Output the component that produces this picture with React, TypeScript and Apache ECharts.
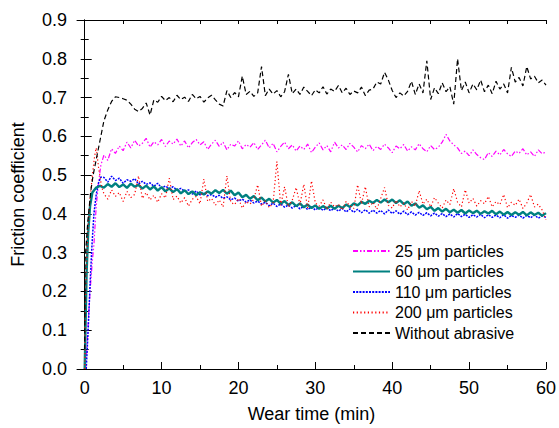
import React, { useEffect, useRef } from "react";
import * as echarts from "echarts";

// Shared sampling times (min) for the steady part of every curve
const plateauTime = [
  2.5, 3, 3.5, 4, 4.5, 5, 5.5, 6, 6.5, 7,
  7.5, 8, 8.5, 9, 9.5, 10, 10.5, 11, 11.5, 12,
  12.5, 13, 13.5, 14, 14.5, 15, 15.5, 16, 16.5, 17,
  17.5, 18, 18.5, 19, 19.5, 20, 20.5, 21, 21.5, 22,
  22.5, 23, 23.5, 24, 24.5, 25, 25.5, 26, 26.5, 27,
  27.5, 28, 28.5, 29, 29.5, 30, 30.5, 31, 31.5, 32,
  32.5, 33, 33.5, 34, 34.5, 35, 35.5, 36, 36.5, 37,
  37.5, 38, 38.5, 39, 39.5, 40, 40.5, 41, 41.5, 42,
  42.5, 43, 43.5, 44, 44.5, 45, 45.5, 46, 46.5, 47,
  47.5, 48, 48.5, 49, 49.5, 50, 50.5, 51, 51.5, 52,
  52.5, 53, 53.5, 54, 54.5, 55, 55.5, 56, 56.5, 57,
  57.5, 58, 58.5, 59, 59.5, 60,
];

// Running-in (rise) parts
const riseTime25 = [0.15, 0.4, 0.7, 1.0, 1.2, 1.5, 1.8, 2.1];
const riseVal25 = [0.0, 0.1, 0.2, 0.28, 0.32, 0.42, 0.48, 0.525];
const riseTime60 = [0, 0.1, 0.25, 0.45, 0.7, 1.0, 1.5, 2.0];
const riseVal60 = [0.0, 0.1, 0.25, 0.35, 0.42, 0.455, 0.468, 0.472];
const riseTime110 = [0.2, 0.45, 0.7, 0.95, 1.2, 1.5, 1.8, 2.1];
const riseVal110 = [0.0, 0.1, 0.22, 0.32, 0.4, 0.45, 0.48, 0.495];
const riseTime200 = [0, 0.05, 0.2, 0.4, 0.7, 1.0, 1.3, 1.5, 1.8, 2.2];
const riseVal200 = [0.0, 0.12, 0.25, 0.35, 0.44, 0.5, 0.55, 0.57, 0.52, 0.47];
const riseTimeNone = [0, 0.05, 0.4, 0.8, 1.1, 1.5, 1.9, 2.3];
const riseValNone = [0.05, 0.28, 0.38, 0.46, 0.5, 0.54, 0.58, 0.62];

// Steady parts (values at plateauTime)
const val25 = [
  0.552, 0.538, 0.568, 0.556, 0.575, 0.563, 0.585, 0.570, 0.590, 0.575,
  0.582, 0.595, 0.572, 0.586, 0.578, 0.592, 0.574, 0.588, 0.580, 0.593,
  0.575, 0.588, 0.570, 0.584, 0.592, 0.578, 0.586, 0.566, 0.580, 0.590,
  0.574, 0.585, 0.565, 0.580, 0.575, 0.588, 0.568, 0.579, 0.572, 0.584,
  0.566, 0.578, 0.590, 0.570, 0.582, 0.560, 0.574, 0.585, 0.568, 0.578,
  0.562, 0.575, 0.566, 0.580, 0.558, 0.572, 0.583, 0.565, 0.576, 0.560,
  0.585, 0.570, 0.578, 0.566, 0.582, 0.572, 0.560, 0.576, 0.568, 0.580,
  0.563, 0.574, 0.566, 0.580, 0.570, 0.558, 0.575, 0.568, 0.579, 0.562,
  0.573, 0.565, 0.581, 0.568, 0.560, 0.576, 0.566, 0.572, 0.585, 0.605,
  0.588, 0.578, 0.570, 0.556, 0.562, 0.550, 0.565, 0.553, 0.545, 0.540,
  0.558, 0.548, 0.562, 0.552, 0.566, 0.555, 0.548, 0.562, 0.556, 0.568,
  0.552, 0.560, 0.548, 0.565, 0.555, 0.560,
];
const val60 = [
  0.468, 0.477, 0.470, 0.479, 0.469, 0.476, 0.467, 0.478, 0.470, 0.475,
  0.465, 0.473, 0.463, 0.471, 0.460, 0.469, 0.458, 0.466, 0.456, 0.464,
  0.453, 0.461, 0.451, 0.458, 0.448, 0.456, 0.450, 0.458, 0.452, 0.461,
  0.454, 0.462, 0.452, 0.460, 0.448, 0.455, 0.443, 0.449, 0.439, 0.446,
  0.435, 0.442, 0.432, 0.439, 0.429, 0.436, 0.426, 0.433, 0.423, 0.430,
  0.420, 0.427, 0.417, 0.424, 0.415, 0.422, 0.413, 0.420, 0.414, 0.421,
  0.413, 0.421, 0.415, 0.424, 0.418, 0.427, 0.422, 0.431, 0.426, 0.434,
  0.428, 0.436, 0.429, 0.437, 0.430, 0.437, 0.428, 0.435, 0.425, 0.432,
  0.421, 0.427, 0.416, 0.422, 0.412, 0.418, 0.408, 0.415, 0.406, 0.413,
  0.404, 0.411, 0.403, 0.410, 0.401, 0.409, 0.402, 0.408, 0.400, 0.407,
  0.401, 0.408, 0.399, 0.406, 0.398, 0.405, 0.397, 0.404, 0.398, 0.405,
  0.396, 0.404, 0.397, 0.403, 0.395, 0.402,
];
const val110 = [
  0.494, 0.482, 0.497, 0.486, 0.492, 0.479, 0.488, 0.484, 0.491, 0.477,
  0.484, 0.476, 0.480, 0.471, 0.479, 0.467, 0.472, 0.465, 0.470, 0.461,
  0.466, 0.458, 0.462, 0.451, 0.459, 0.449, 0.455, 0.447, 0.450, 0.443,
  0.448, 0.440, 0.444, 0.436, 0.441, 0.433, 0.438, 0.430, 0.436, 0.428,
  0.433, 0.425, 0.430, 0.421, 0.428, 0.419, 0.426, 0.417, 0.423, 0.415,
  0.422, 0.413, 0.420, 0.411, 0.418, 0.410, 0.417, 0.409, 0.416, 0.408,
  0.415, 0.407, 0.414, 0.405, 0.413, 0.404, 0.412, 0.403, 0.411, 0.402,
  0.410, 0.402, 0.409, 0.400, 0.410, 0.401, 0.408, 0.399, 0.407, 0.398,
  0.405, 0.397, 0.404, 0.396, 0.403, 0.395, 0.402, 0.394, 0.401, 0.393,
  0.400, 0.392, 0.401, 0.393, 0.399, 0.391, 0.398, 0.392, 0.399, 0.390,
  0.398, 0.391, 0.397, 0.390, 0.398, 0.389, 0.396, 0.391, 0.397, 0.389,
  0.396, 0.390, 0.397, 0.389, 0.395, 0.391,
];
const val200 = [
  0.452, 0.438, 0.462, 0.445, 0.455, 0.432, 0.458, 0.442, 0.450, 0.498,
  0.440, 0.455, 0.436, 0.448, 0.430, 0.452, 0.441, 0.492, 0.437, 0.446,
  0.428, 0.442, 0.420, 0.438, 0.445, 0.426, 0.490, 0.432, 0.440, 0.422,
  0.436, 0.418, 0.498, 0.430, 0.424, 0.440, 0.415, 0.432, 0.425, 0.438,
  0.475, 0.420, 0.434, 0.416, 0.428, 0.535, 0.422, 0.470, 0.418, 0.435,
  0.468, 0.424, 0.476, 0.415, 0.485, 0.428, 0.420, 0.436, 0.412, 0.430,
  0.418, 0.425, 0.410, 0.432, 0.420, 0.414, 0.475, 0.426, 0.470, 0.418,
  0.430, 0.412, 0.440, 0.468, 0.422, 0.415, 0.435, 0.418, 0.428, 0.410,
  0.432, 0.420, 0.460, 0.425, 0.438, 0.418, 0.442, 0.428, 0.415, 0.436,
  0.424, 0.465, 0.430, 0.418, 0.462, 0.428, 0.440, 0.420, 0.434, 0.426,
  0.445, 0.418, 0.432, 0.424, 0.450, 0.416, 0.430, 0.422, 0.438, 0.414,
  0.428, 0.450, 0.418, 0.425, 0.410, 0.385,
];
const valNone = [
  0.640, 0.668, 0.690, 0.702, 0.700, 0.697, 0.693, 0.683, 0.670, 0.664,
  0.672, 0.686, 0.655, 0.694, 0.688, 0.703, 0.692, 0.700, 0.689, 0.706,
  0.695, 0.701, 0.690, 0.708, 0.697, 0.703, 0.688, 0.699, 0.706, 0.694,
  0.683, 0.678, 0.718, 0.700, 0.713, 0.702, 0.755, 0.708, 0.716, 0.703,
  0.712, 0.780, 0.705, 0.722, 0.709, 0.718, 0.702, 0.715, 0.760, 0.710,
  0.722, 0.708, 0.727, 0.716, 0.705, 0.720, 0.712, 0.728, 0.709, 0.722,
  0.716, 0.731, 0.712, 0.724, 0.708, 0.717, 0.712, 0.727, 0.705, 0.719,
  0.722, 0.740, 0.735, 0.765, 0.745, 0.718, 0.700, 0.712, 0.704, 0.716,
  0.742, 0.708, 0.735, 0.712, 0.795, 0.695, 0.725, 0.710, 0.738, 0.715,
  0.728, 0.683, 0.800, 0.718, 0.740, 0.712, 0.735, 0.720, 0.745, 0.715,
  0.732, 0.710, 0.742, 0.722, 0.735, 0.712, 0.778, 0.740, 0.752, 0.730,
  0.780, 0.748, 0.755, 0.738, 0.745, 0.732,
];

const seriesNames = [
  "25 \u03bcm particles",
  "60 \u03bcm particles",
  "110 \u03bcm particles",
  "200 \u03bcm particles",
  "Without abrasive",
];

const xMajor = [0, 10, 20, 30, 40, 50, 60];
const xMinor = [5, 15, 25, 35, 45, 55];
const xAll = [0, 5, 10, 15, 20, 25, 30, 35, 40, 45, 50, 55, 60];

function build(rt: number[], rv: number[], pv: number[]) {
  const out: number[][] = rt.map((t, i) => [t, rv[i]]);
  plateauTime.forEach((t, i) => out.push([t, pv[i]]));
  return out;
}

const FONT = "Liberation Sans, Arial, sans-serif";

export default function App() {
  const ref = useRef<HTMLDivElement>(null);
  useEffect(() => {
    if (!ref.current) return;
    const chart = echarts.init(ref.current, undefined, { renderer: "svg" });
    const axisLine = { show: true, lineStyle: { color: "#000", width: 1 } };
    const common = { type: "value" as const, min: -1, max: 60 };
    const option: any = {
      animation: false,
      backgroundColor: "#fff",
      textStyle: { fontFamily: FONT },
      grid: { left: 77, right: 11, top: 20, bottom: 57, containLabel: false },
      xAxis: [
        {
          ...common,
          position: "bottom",
          name: "Wear time (min)",
          nameLocation: "middle",
          nameGap: 36,
          nameTextStyle: { fontSize: 18, color: "#000", fontFamily: FONT },
          axisLine,
          splitLine: { show: false },
          axisTick: { show: true, inside: true, length: 7, customValues: xMajor, lineStyle: { color: "#000" } },
          axisLabel: { show: true, customValues: xMajor, fontSize: 18, color: "#000", margin: 10, fontFamily: FONT },
        },
        {
          ...common,
          position: "bottom",
          axisLine: { show: false },
          splitLine: { show: false },
          axisTick: { show: true, inside: true, length: 4, customValues: xMinor, lineStyle: { color: "#000" } },
          axisLabel: { show: false },
        },
        {
          ...common,
          position: "top",
          axisLine,
          splitLine: { show: false },
          axisTick: { show: true, inside: true, length: 4, customValues: xAll, lineStyle: { color: "#000" } },
          axisLabel: { show: false },
        },
      ],
      yAxis: [
        {
          type: "value",
          min: 0,
          max: 0.9,
          interval: 0.1,
          position: "left",
          name: "Friction coefficient",
          nameLocation: "middle",
          nameGap: 50,
          nameTextStyle: { fontSize: 18, color: "#000", fontFamily: FONT },
          axisLine,
          splitLine: { show: false },
          axisTick: { show: true, inside: true, length: 7, lineStyle: { color: "#000" } },
          minorTick: { show: true, splitNumber: 2, length: 4, lineStyle: { color: "#000" } },
          axisLabel: {
            fontSize: 18,
            color: "#000",
            margin: 10,
            fontFamily: FONT,
            formatter: (v: number) => v.toFixed(1),
          },
        },
        {
          type: "value",
          min: 0,
          max: 0.9,
          interval: 0.1,
          position: "right",
          axisLine,
          splitLine: { show: false },
          axisTick: { show: true, inside: true, length: 4, lineStyle: { color: "#000" } },
          minorTick: { show: true, splitNumber: 2, length: 4, lineStyle: { color: "#000" } },
          axisLabel: { show: false },
        },
      ],
      legend: {
        orient: "vertical",
        left: 352,
        top: 243,
        padding: 0,
        itemWidth: 37,
        itemHeight: 12,
        itemGap: 4.5,
        data: seriesNames,
        itemStyle: { opacity: 0 },
        textStyle: { fontSize: 16, color: "#000", fontFamily: FONT, padding: [0, 0, 0, 0] },
      },
      series: [
        {
          name: seriesNames[0],
          type: "line",
          symbol: "none",
          data: build(riseTime25, riseVal25, val25),
          lineStyle: { color: "#ff00ff", width: 1.2, type: [5, 2, 1.5, 2, 1.5, 2] },
          itemStyle: { color: "#ff00ff" },
        },
        {
          name: seriesNames[2],
          type: "line",
          symbol: "none",
          data: build(riseTime110, riseVal110, val110),
          lineStyle: { color: "#0000ff", width: 1.5, type: [2, 1.2] },
          itemStyle: { color: "#0000ff" },
        },
        {
          name: seriesNames[1],
          type: "line",
          symbol: "none",
          data: build(riseTime60, riseVal60, val60),
          lineStyle: { color: "#008080", width: 2.4, type: "solid" },
          itemStyle: { color: "#008080" },
        },
        {
          name: seriesNames[3],
          type: "line",
          symbol: "none",
          data: build(riseTime200, riseVal200, val200),
          lineStyle: { color: "#ff0000", width: 1.2, type: [1.2, 2.5] },
          itemStyle: { color: "#ff0000" },
        },
        {
          name: seriesNames[4],
          type: "line",
          symbol: "none",
          data: build(riseTimeNone, riseValNone, valNone),
          lineStyle: { color: "#000000", width: 1.2, type: [5, 3] },
          itemStyle: { color: "#000000" },
        },
      ],
    };
    chart.setOption(option);
    return () => chart.dispose();
  }, []);
  return (
    <div
      ref={ref}
      style={{ position: "fixed", left: 0, top: 0, width: 559, height: 428 }}
    />
  );
}
